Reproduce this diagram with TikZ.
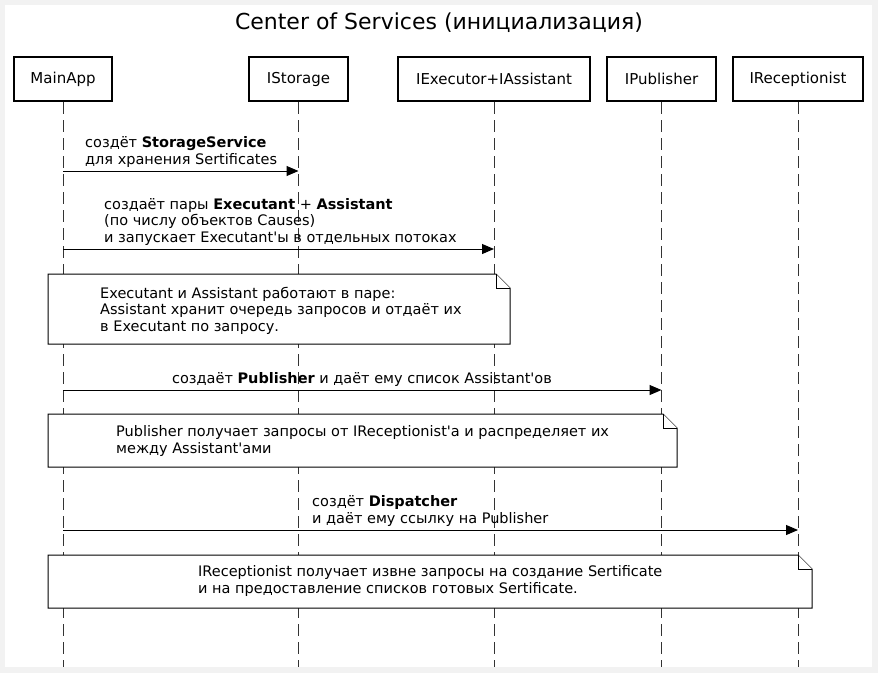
\documentclass[tikz,border=0pt]{standalone}
\usepackage{fontspec}
\setmainfont{DejaVu Sans}[Ligatures=TeXOff]
\usetikzlibrary{arrows.meta}

\begin{document}
\begin{tikzpicture}[x=1pt, y=-1pt,
  every node/.style={font=\fontsize{14.5}{16.4}\selectfont, inner sep=0pt},
  actor/.style={draw, line width=2pt, fill=white, minimum height=44pt, font=\fontsize{15}{17}\selectfont},
  lifeline/.style={draw=black!80, line width=1pt, dash pattern=on 12pt off 6pt},
  msg/.style={line width=1pt, -{Triangle[length=12pt,width=10pt]}},
  msgtext/.style={align=left, anchor=base west},
  notebox/.style={draw, fill=white, line width=1pt},
  notetext/.style={align=left, anchor=base west}]

\useasboundingbox (0,0) rectangle (878,673);
\fill[black!5] (0,0) rectangle (878,673);
\fill[white] (5,5) rectangle (872,667);

\node[font=\fontsize{22}{24}\selectfont, anchor=base] (title) at (439,29) {Center of Services (инициализация)};

\node[actor, minimum width=98pt] (mainapp) at (63,79) {MainApp};
\node[actor, minimum width=99pt] (storage) at (298.5,79) {IStorage};
\node[actor, minimum width=192pt] (executor) at (494,79) {IExecutor+IAssistant};
\node[actor, minimum width=109pt] (publisher) at (661.5,79) {IPublisher};
\node[actor, minimum width=130pt] (receptionist) at (798,79) {IReceptionist};

\draw[lifeline] (mainapp.south) -- (mainapp.south |- 0,667);
\draw[lifeline] (storage.south) -- (storage.south |- 0,667);
\draw[lifeline] (executor.south) -- (executor.south |- 0,667);
\draw[lifeline] (publisher.south) -- (publisher.south |- 0,667);
\draw[lifeline] (receptionist.south) -- (receptionist.south |- 0,667);

% storage
\node[msgtext] (m1) at (85,164) {создёт \textbf{StorageService}\\для хранения Sertificates};
\draw[msg] (mainapp.south |- 0,171) -- (storage.south |- 0,171);

% executants + assistants
\node[msgtext] (m2) at (104,242) {создаёт пары \textbf{Executant} + \textbf{Assistant}\\(по числу объектов Causes)\\и запускает Executant'ы в отдельных потоках};
\draw[msg] (mainapp.south |- 0,249) -- (executor.south |- 0,249);

\filldraw[notebox] (48,274) -- (496,274) -- (510,288) -- (510,344) -- (48,344) -- cycle;
\draw[notebox] (496,274) |- (510,288);
\node[notetext] (n1) at (100,331) {Executant и Assistant работают в паре:\\Assistant хранит очередь запросов и отдаёт их\\в Executant по запросу.};

% publisher
\node[anchor=base] (m3) at (362,383) {создаёт \textbf{Publisher} и даёт ему список Assistant'ов};
\draw[msg] (mainapp.south |- 0,390) -- (publisher.south |- 0,390);

\filldraw[notebox] (48,414) -- (663,414) -- (677,428) -- (677,467) -- (48,467) -- cycle;
\draw[notebox] (663,414) |- (677,428);
\node[notetext] (n2) at (116,453) {Publisher получает запросы от IReceptionist'а и распределяет их\\между Assistant'ами};

% dispatcher
\node[msgtext] (m4) at (312,523) {создёт \textbf{Dispatcher}\\и даёт ему ссылку на Publisher};
\draw[msg] (mainapp.south |- 0,530) -- (receptionist.south |- 0,530);

\filldraw[notebox] (48,555) -- (798,555) -- (812,569) -- (812,608) -- (48,608) -- cycle;
\draw[notebox] (798,555) |- (812,569);
\node[notetext] (n3) at (198,593) {IReceptionist получает извне запросы на создание Sertificate\\и на предоставление списков готовых Sertificate.};

\end{tikzpicture}
\end{document}
